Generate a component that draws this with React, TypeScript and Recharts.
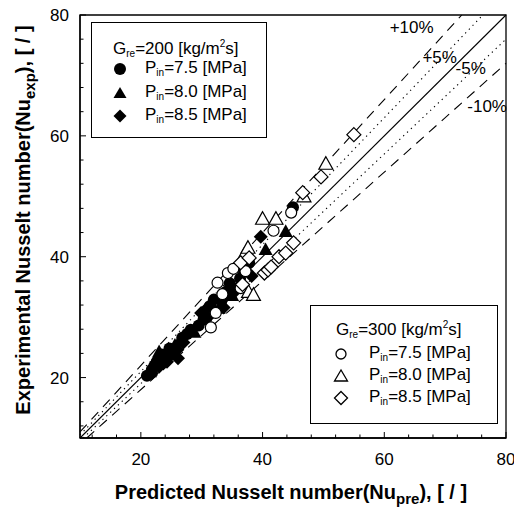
import React from 'react';
import { ScatterChart, Scatter, XAxis, YAxis, ReferenceLine, ReferenceArea, ReferenceDot } from 'recharts';

// G_re = 200 (filled markers)
const g200P75 = [
  { x: 21.0, y: 20.3 }, { x: 21.8, y: 21.3 }, { x: 22.6, y: 22.6 }, { x: 23.4, y: 23.8 },
  { x: 24.7, y: 24.8 }, { x: 25.5, y: 24.2 }, { x: 27.6, y: 27.2 }, { x: 28.2, y: 27.9 },
  { x: 30.3, y: 29.6 }, { x: 31.3, y: 31.8 }, { x: 32.0, y: 32.9 }, { x: 33.4, y: 33.0 },
  { x: 34.6, y: 35.6 }, { x: 36.3, y: 36.4 }, { x: 37.8, y: 39.0 }, { x: 45.0, y: 48.2 },
  { x: 22.2, y: 21.9 }, { x: 26.8, y: 26.6 }, { x: 29.5, y: 28.6 }, { x: 34.0, y: 34.2 },
];
const g200P80 = [
  { x: 21.5, y: 21.0 }, { x: 22.4, y: 22.9 }, { x: 23.8, y: 23.2 }, { x: 25.6, y: 25.4 },
  { x: 26.4, y: 26.2 }, { x: 28.8, y: 27.5 }, { x: 30.6, y: 30.2 }, { x: 31.5, y: 32.5 },
  { x: 35.0, y: 33.6 }, { x: 36.2, y: 35.5 }, { x: 40.5, y: 41.2 }, { x: 43.8, y: 44.2 },
  { x: 23.0, y: 24.3 }, { x: 32.8, y: 31.5 },
];
const g200P85 = [
  { x: 21.8, y: 20.7 }, { x: 23.0, y: 21.8 }, { x: 24.3, y: 22.6 }, { x: 26.1, y: 23.2 },
  { x: 26.0, y: 24.6 }, { x: 27.0, y: 25.8 }, { x: 29.9, y: 30.7 }, { x: 30.8, y: 31.4 },
  { x: 33.6, y: 31.6 }, { x: 35.2, y: 34.0 }, { x: 36.9, y: 37.6 }, { x: 39.7, y: 43.3 },
  { x: 38.2, y: 36.8 }, { x: 24.8, y: 23.6 }, { x: 31.0, y: 30.0 },
];
// G_re = 300 (open markers)
const g300P75 = [
  { x: 31.5, y: 28.3 }, { x: 32.3, y: 30.7 }, { x: 32.6, y: 35.7 }, { x: 34.3, y: 37.3 },
  { x: 35.2, y: 38.0 }, { x: 36.4, y: 34.8 }, { x: 37.2, y: 37.6 }, { x: 41.8, y: 44.3 },
  { x: 44.7, y: 47.3 }, { x: 33.4, y: 33.8 },
];
const g300P80 = [
  { x: 36.9, y: 40.2 }, { x: 37.7, y: 34.2 }, { x: 38.5, y: 33.7 }, { x: 40.0, y: 46.3 },
  { x: 42.2, y: 46.3 }, { x: 46.8, y: 50.0 }, { x: 50.4, y: 55.4 }, { x: 37.6, y: 41.5 },
];
const g300P85 = [
  { x: 36.4, y: 39.0 }, { x: 36.7, y: 35.4 }, { x: 37.8, y: 39.8 }, { x: 40.3, y: 37.3 },
  { x: 40.9, y: 37.8 }, { x: 41.4, y: 38.3 }, { x: 42.7, y: 40.0 }, { x: 43.8, y: 40.6 },
  { x: 45.1, y: 42.3 }, { x: 46.6, y: 50.6 }, { x: 49.6, y: 53.2 }, { x: 55.0, y: 60.2 },
];

const axisTicks = [12, 16, 20, 24, 28, 32, 36, 40, 44, 48, 52, 56, 60, 64, 68, 72, 76, 80];
const majorTicks = [20, 40, 60, 80];
const AXIS_MIN = 10;
const AXIS_MAX = 80;

// deviation lines: y = (1 + d) * x
const deviations = [0, 0.05, -0.05, 0.1, -0.1];
const deviationLabels = ['+10%', '+5%', '-5%', '-10%'];
const deviationLabelPos = [
  { x: 64.5, y: 78.0 },
  { x: 69.1, y: 73.1 },
  { x: 74.2, y: 71.2 },
  { x: 76.9, y: 64.9 },
];

const FONT = '"Liberation Sans", Arial, Helvetica, sans-serif';

const segFor = (d: number) => {
  const k = 1 + d;
  if (d >= 0) {
    return [{ x: AXIS_MIN, y: AXIS_MIN * k }, { x: AXIS_MAX / k, y: AXIS_MAX }];
  }
  return [{ x: AXIS_MIN / k, y: AXIS_MIN }, { x: AXIS_MAX, y: AXIS_MAX * k }];
};
const dashFor = (d: number) => (d === 0 ? undefined : Math.abs(d) > 0.07 ? '10 7' : '1.3 4');

const S = 7;
const FilledCircle = (p: any) => <circle cx={p.cx} cy={p.cy} r={6} fill="#000" />;
const FilledTriangle = (p: any) => (
  <polygon points={`${p.cx},${p.cy - S} ${p.cx - S},${p.cy + S * 0.8} ${p.cx + S},${p.cy + S * 0.8}`} fill="#000" />
);
const FilledDiamond = (p: any) => (
  <polygon points={`${p.cx},${p.cy - S} ${p.cx + S},${p.cy} ${p.cx},${p.cy + S} ${p.cx - S},${p.cy}`} fill="#000" />
);
const OpenCircle = (p: any) => <circle cx={p.cx} cy={p.cy} r={5.5} fill="#fff" stroke="#000" strokeWidth={1.2} />;
const OpenTriangle = (p: any) => (
  <polygon points={`${p.cx},${p.cy - S} ${p.cx - S},${p.cy + S * 0.8} ${p.cx + S},${p.cy + S * 0.8}`} fill="#fff" stroke="#000" strokeWidth={1.2} />
);
const OpenDiamond = (p: any) => (
  <polygon points={`${p.cx},${p.cy - S} ${p.cx + S},${p.cy} ${p.cx},${p.cy + S} ${p.cx - S},${p.cy}`} fill="#fff" stroke="#000" strokeWidth={1.2} />
);

const XTick = (p: any) => {
  const v = p.payload.value;
  const major = majorTicks.includes(v);
  return (
    <g>
      <line x1={p.x} x2={p.x} y1={p.y} y2={p.y - (major ? 6 : 3.5)} stroke="#000" strokeWidth={1} />
      {major && (
        <text x={p.x} y={p.y + 27} textAnchor="middle" fontSize={17} fontFamily={FONT} fill="#000">{v}</text>
      )}
    </g>
  );
};
const YTick = (p: any) => {
  const v = p.payload.value;
  const major = majorTicks.includes(v);
  return (
    <g>
      <line x1={p.x} x2={p.x + (major ? 6 : 3.5)} y1={p.y} y2={p.y} stroke="#000" strokeWidth={1} />
      {major && (
        <text x={p.x - 11} y={p.y + 6} textAnchor="end" fontSize={17} fontFamily={FONT} fill="#000">{v}</text>
      )}
    </g>
  );
};

const markerIcon = (kind: string, filled: boolean) => {
  const fill = filled ? '#000' : '#fff';
  const stroke = filled ? 'none' : '#000';
  let el;
  if (kind === 'c') el = <circle cx={8} cy={8} r={filled ? 6 : 5} fill={fill} stroke={stroke} strokeWidth={1.3} />;
  else if (kind === 't') el = <polygon points="8,2 1.5,13 14.5,13" fill={fill} stroke={stroke} strokeWidth={1.3} />;
  else el = <polygon points="8,1.5 14.5,8 8,14.5 1.5,8" fill={fill} stroke={stroke} strokeWidth={1.3} />;
  return <svg width={16} height={16} style={{ display: 'block' }}>{el}</svg>;
};

const legendRows = [
  { kind: 'c', p: '7.5' },
  { kind: 't', p: '8.0' },
  { kind: 'd', p: '8.5' },
];

const LegendBox = ({ left, top, width, height, g, filled, markerX, textX, titleX, titleY, rowYs }: any) => (
  <div style={{ position: 'absolute', left, top, width, height, border: '1px solid #000', boxSizing: 'border-box', fontFamily: FONT, fontSize: 17, color: '#000' }}>
    <div style={{ position: 'absolute', left: titleX, top: titleY, whiteSpace: 'nowrap', lineHeight: '19px' }}>
      G<sub style={{ fontSize: 10, verticalAlign: '-3px' }}>re</sub>={g} [kg/m<sup style={{ fontSize: 10, verticalAlign: '7px' }}>2</sup>s]
    </div>
    {legendRows.map((r, i) => (
      <React.Fragment key={r.kind}>
        <div style={{ position: 'absolute', left: markerX - 8, top: rowYs[i] - 8 }}>{markerIcon(r.kind, filled)}</div>
        <div style={{ position: 'absolute', left: textX, top: rowYs[i] - 11, whiteSpace: 'nowrap', lineHeight: '19px' }}>
          P<sub style={{ fontSize: 10, verticalAlign: '-3px' }}>in</sub>={r.p} [MPa]
        </div>
      </React.Fragment>
    ))}
  </div>
);

export default function App() {
  return (
    <div style={{ position: 'absolute', left: 0, top: 0, width: 514, height: 509, background: '#fff' }}>
      <ScatterChart width={514} height={509} margin={{ top: 15, right: 8, bottom: 0, left: 0 }}>
        <XAxis
          type="number"
          dataKey="x"
          domain={[AXIS_MIN, AXIS_MAX]}
          ticks={axisTicks}
          interval={0}
          height={71}
          tickSize={0}
          tickMargin={0}
          tickLine={false}
          axisLine={{ stroke: '#000', strokeWidth: 1.3 }}
          tick={<XTick />}
          allowDataOverflow
        />
        <YAxis
          type="number"
          dataKey="y"
          domain={[AXIS_MIN, AXIS_MAX]}
          ticks={axisTicks}
          interval={0}
          width={80}
          tickSize={0}
          tickMargin={0}
          tickLine={false}
          axisLine={{ stroke: '#000', strokeWidth: 1.3 }}
          tick={<YTick />}
          allowDataOverflow
        />
        <ReferenceArea x1={AXIS_MIN} x2={AXIS_MAX} y1={AXIS_MIN} y2={AXIS_MAX} fill="none" stroke="#000" strokeWidth={1.3} ifOverflow="visible" />
        {deviations.map((d) => (
          <ReferenceLine key={d} segment={segFor(d)} stroke="#000" strokeWidth={1.1} strokeDasharray={dashFor(d)} ifOverflow="visible" />
        ))}
        {deviationLabels.map((t, i) => (
          <ReferenceDot
            key={t}
            x={deviationLabelPos[i].x}
            y={deviationLabelPos[i].y}
            r={0}
            fill="none"
            stroke="none"
            label={{ value: t, position: 'center', fontSize: 17, fontFamily: FONT, fill: '#000' }}
          />
        ))}
        <Scatter data={g200P75} shape={FilledCircle} isAnimationActive={false} />
        <Scatter data={g200P80} shape={FilledTriangle} isAnimationActive={false} />
        <Scatter data={g200P85} shape={FilledDiamond} isAnimationActive={false} />
        <Scatter data={g300P75} shape={OpenCircle} isAnimationActive={false} />
        <Scatter data={g300P80} shape={OpenTriangle} isAnimationActive={false} />
        <Scatter data={g300P85} shape={OpenDiamond} isAnimationActive={false} />
      </ScatterChart>

      <LegendBox left={91} top={22} width={176} height={116} g="200" filled markerX={28} textX={53} titleX={21} titleY={11} rowYs={[46, 70, 93]} />
      <LegendBox left={310} top={305} width={188} height={119} g="300" filled={false} markerX={30} textX={58} titleX={25} titleY={9} rowYs={[48, 70, 92]} />

      <div style={{ position: 'absolute', left: 291, top: 481, transform: 'translateX(-50%)', whiteSpace: 'nowrap', fontFamily: FONT, fontWeight: 'bold', fontSize: 20, lineHeight: '22px' }}>
        Predicted Nusselt number(Nu<sub style={{ fontSize: 15, verticalAlign: '-5px' }}>pre</sub>), [ / ]
      </div>
      <div style={{ position: 'absolute', left: 26, top: 220, transform: 'translate(-50%, -50%) rotate(-90deg)', whiteSpace: 'nowrap', fontFamily: FONT, fontWeight: 'bold', fontSize: 20, lineHeight: '22px' }}>
        Experimental Nusselt number(Nu<sub style={{ fontSize: 15, verticalAlign: '-5px' }}>exp</sub>), [ / ]
      </div>
    </div>
  );
}
